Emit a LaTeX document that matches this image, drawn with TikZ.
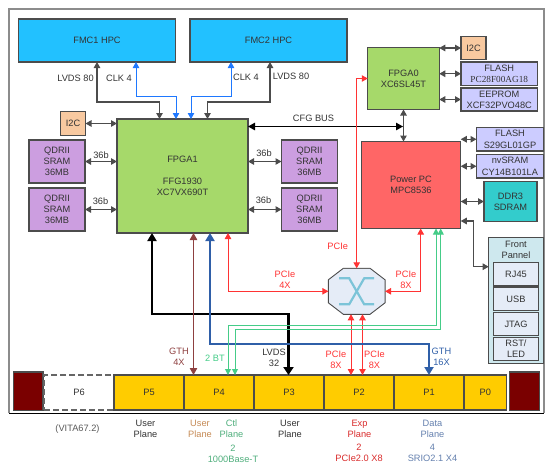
\documentclass[tikz,border=0pt]{standalone}
\usepackage{fontspec}
\setmainfont{Liberation Sans}
\newfontfamily\flashserif{Liberation Serif}
\usepackage{xcolor}
\usepackage{tikz}
\usetikzlibrary{arrows.meta}
\definecolor{inkgray}{HTML}{333333}
\definecolor{fmcblue}{HTML}{22C1FF}
\definecolor{fpgagreen}{HTML}{A6D96A}
\definecolor{qdrpurple}{HTML}{CC9EE0}
\definecolor{i2corange}{HTML}{F8C9A0}
\definecolor{flashlilac}{HTML}{CCCCFF}
\definecolor{ppcred}{HTML}{FF6666}
\definecolor{ddrteal}{HTML}{33CCCC}
\definecolor{panelcyan}{HTML}{CEE8EE}
\definecolor{itemblue}{HTML}{E5ECF7}
\definecolor{slotyellow}{HTML}{FFCC00}
\definecolor{capred}{HTML}{7A0000}
\definecolor{pcired}{HTML}{FF3333}
\definecolor{clkblue}{HTML}{1E78FF}
\definecolor{gthblue}{HTML}{2F5FA8}
\definecolor{gthbrown}{HTML}{8E4040}
\definecolor{btgreen}{HTML}{45CC88}
\definecolor{planeorange}{HTML}{C58A55}
\definecolor{planegreen}{HTML}{4FAE7C}
\definecolor{planeblue}{HTML}{6480AE}
\definecolor{xcyan}{HTML}{7CC4D8}

\begin{document}
\begin{tikzpicture}[
    x=1pt, y=-1pt,
    every node/.style={font=\fontsize{9.25}{11.2}\selectfont, text=inkgray, inner sep=0pt, outer sep=0pt, align=center},
    block/.style={rectangle, draw=black!70, line width=1.1pt},
    fmc/.style={block, fill=fmcblue, minimum width=157pt, minimum height=43pt},
    qdr/.style={block, fill=qdrpurple, minimum width=56pt, minimum height=43pt},
    i2c/.style={block, fill=i2corange, minimum width=25pt, minimum height=23.5pt},
    flash/.style={block, fill=flashlilac},
    item/.style={block, fill=itemblue, minimum width=45pt, minimum height=23.5pt},
    slot/.style={block, fill=slotyellow, minimum width=70pt, minimum height=35pt},
    capblock/.style={block, fill=capred, minimum width=29.5pt, minimum height=38.5pt},
    lbl/.style={},
    link/.style={draw=black!70, line width=1.1pt, {Triangle[length=6pt, width=6.5pt]}-{Triangle[length=6pt, width=6.5pt]}},
    clk/.style={draw=clkblue, line width=1pt, {Triangle[length=6pt, width=6.5pt]}-{Triangle[length=6pt, width=6.5pt]}},
    pcie/.style={draw=pcired, line width=0.9pt, {Triangle[length=6pt, width=6.5pt]}-{Triangle[length=6pt, width=6.5pt]}},
    bt/.style={draw=btgreen, line width=1pt, {Triangle[length=6pt, width=6pt]}-{Triangle[length=6pt, width=6pt]}},
    xarm/.style={draw=xcyan, line width=2.2pt}
]
\useasboundingbox (0,0) rectangle (555,469);
% frame
\draw[draw=black!45, line width=1.2pt] (9,413) -- (9,9) -- (544,9) -- (544,413);
\draw[draw=black, line width=1pt] (9,413) -- (544,413);

% fmc and fpga
\node[fmc] (fmc1) at (97,40.5) {FMC1 HPC};
\node[fmc] (fmc2) at (268.5,40.5) {FMC2 HPC};
\node[block, fill=fpgagreen, minimum width=131pt, minimum height=114pt] (fpga1) at (182.5,176) {FPGA1\\[11pt]FFG1930\\XC7VX690T};
\node[block, fill=fpgagreen, minimum width=71.5pt, minimum height=62pt] (fpga0) at (403.5,78.5) {FPGA0\\XC6SL45T};
\node[i2c] (i2cl) at (73,123.5) {I2C};
\node[i2c] (i2cr) at (473.5,48) {I2C};

% sram
\node[qdr] (qdra) at (57,161.5) {QDRII\\SRAM\\36MB};
\node[qdr] (qdrb) at (57,209.5) {QDRII\\SRAM\\36MB};
\node[qdr] (qdrc) at (309.5,161.5) {QDRII\\SRAM\\36MB};
\node[qdr] (qdrd) at (309.5,209.5) {QDRII\\SRAM\\36MB};

% memories
\node[flash, minimum width=76.5pt, minimum height=23.5pt] (flasha) at (499.25,73.75) {FLASH\\{\flashserif PC28F00AG18}};
\node[flash, minimum width=76.5pt, minimum height=23pt] (eeprom) at (499.25,99.5) {EEPROM\\XCF32PVO48C};
\node[flash, minimum width=67pt, minimum height=23.5pt] (flashb) at (510,139.25) {FLASH\\S29GL01GP};
\node[flash, minimum width=67pt, minimum height=23.5pt] (nvsram) at (510,166.25) {nvSRAM\\CY14B101LA};
\node[block, fill=ddrteal, minimum width=53pt, minimum height=40pt] (ddr3) at (510.5,201.5) {DDR3\\SDRAM};
\node[block, fill=ppcred, minimum width=99.5pt, minimum height=87pt] (ppc) at (411,185) {Power PC\\MPC8536};

% front panel
\node[block, fill=panelcyan, minimum width=55pt, minimum height=125.5pt] (panel) at (516.2,300.5) {};
\node[lbl] (paneltxt) at (516,250) {Front\\Pannel};
\node[item] (rj45) at (516,274.2) {RJ45};
\node[item] (usb) at (516,299) {USB};
\node[item] (jtag) at (516,324) {JTAG};
\node[item] (rst) at (516,349) {RST/\\LED};

% switch
\node[minimum width=56.7pt, minimum height=46pt] (sw) at (356.7,291.3) {};
\draw[draw=black!70, line width=0.9pt, fill=itemblue] ([xshift=15pt]sw.north west) -- ([xshift=-15pt]sw.north east) -- ([yshift=-11.5pt]sw.north east) -- ([yshift=11.5pt]sw.south east) -- ([xshift=-15pt]sw.south east) -- ([xshift=15pt]sw.south west) -- ([yshift=11.5pt]sw.south west) -- ([yshift=-11.5pt]sw.north west) -- cycle;
\draw[draw=black!60, line width=1.4pt] ([xshift=15pt]sw.north west) -- ([xshift=-15pt]sw.north east);
\draw[xarm] ([shift={(-17.5,-13)}]sw.center) -- ++(10,0) -- ++(15,26) -- ++(10,0);
\draw[xarm] ([shift={(17.5,-13)}]sw.center) -- ++(-10,0) -- ++(-15,26) -- ++(-10,0);

% backplane
\node[capblock] (capl) at (28.2,391.2) {};
\node[block, draw=black!60, dash pattern=on 6pt off 3pt, line width=1.2pt, fill=white, minimum width=70pt, minimum height=35pt] (p6) at (79,392.5) {P6};
\node[slot] (p5) at (149,392.5) {P5};
\node[slot] (p4) at (219,392.5) {P4};
\node[slot] (p3) at (289,392.5) {P3};
\node[slot] (p2) at (359,392.5) {P2};
\node[slot] (p1) at (429,392.5) {P1};
\node[slot, minimum width=42.5pt] (p0) at (485.25,392.5) {P0};
\node[capblock] (capr) at (524.3,391.2) {};

% fmc links
\draw[link] ([xshift=-23pt]fpga1.north) |- (97,102) -- (97,62);
\draw[link] ([xshift=25pt]fpga1.north) |- (270,102) -- (270,62);
\draw[clk] ([xshift=-6.5pt]fpga1.north) |- (136,96.5) -- (136,62);
\draw[clk] ([xshift=8.5pt]fpga1.north) |- (231,96.5) -- (231,62);
\draw[link] (i2cl.east) -- (i2cl.east -| fpga1.west);

% sram links
\draw[link] (qdra.east) -- (qdra.east -| fpga1.west);
\draw[link] (qdrb.east) -- (qdrb.east -| fpga1.west);
\draw[link] (qdrc.west -| fpga1.east) -- (qdrc.west);
\draw[link] (qdrd.west -| fpga1.east) -- (qdrd.west);

% control links
\draw[link, draw=black, {Triangle[length=7pt, width=7.5pt]}-{Triangle[length=7pt, width=7.5pt]}] ([yshift=49.5pt]fpga1.east) -- (403,126.5);
\draw[link] (fpga0.south) -- (fpga0.south |- ppc.north);
\draw[link] (i2cr.west -| fpga0.east) -- (i2cr.west);
\draw[link] (flasha.west -| fpga0.east) -- (flasha.west);
\draw[link] (eeprom.west -| fpga0.east) -- (eeprom.west);
\draw[link] (flashb.west -| ppc.east) -- (flashb.west);
\draw[link] (nvsram.west -| ppc.east) -- (nvsram.west);
\draw[link] (ddr3.west -| ppc.east) -- (ddr3.west);
\draw[link] ([yshift=-36pt]ppc.east) -| (473.5,266.7) -- (panel.west |- 473.5,266.7);

% pcie links
\draw[pcie] (sw.north) |- (fpga0.west);
\draw[pcie] ([xshift=45.5pt]fpga1.south) |- (sw.west);
\draw[pcie] ([xshift=9.7pt]ppc.south) |- (sw.east);
\draw[pcie] ([xshift=-5.7pt]sw.south) -- ([xshift=-8pt]p2.north);
\draw[pcie] ([xshift=5.8pt]sw.south) -- ([xshift=3.5pt]p2.north);

% backplane links
\draw[draw=black, line width=2.4pt, {Triangle[length=8pt, width=9pt]}-{Triangle[length=8pt, width=10pt]}] ([xshift=-30.5pt]fpga1.south) |- (288.5,314) -- (288.5,375);
\draw[draw=gthbrown, line width=1pt, {Triangle[length=7pt, width=7.5pt]}-{Triangle[length=7pt, width=7.5pt]}] ([xshift=11pt]fpga1.south) -- ([xshift=-25.5pt]p4.north);
\draw[draw=gthblue, line width=2.2pt, {Triangle[length=8pt, width=9pt]}-{Triangle[length=8pt, width=9pt]}] ([xshift=27.5pt]fpga1.south) |- (429,344) -- (p1.north);
\draw[bt] ([xshift=25pt]ppc.south) |- (228,325.7) -- (228,375);
\draw[bt] ([xshift=29.7pt]ppc.south) |- (235,329.7) -- (235,375);

% link labels
\node[lbl] (lvdsa) at (75.5,78.5) {LVDS 80};
\node[lbl] (clka) at (119,78) {CLK 4};
\node[lbl] (clkb) at (246,77) {CLK 4};
\node[lbl] (lvdsb) at (291,76.5) {LVDS 80};
\node[lbl] (cfgbus) at (313.5,118.5) {CFG BUS};
\node[lbl] (widtha) at (101,155) {36b};
\node[lbl] (widthb) at (100.5,201.5) {36b};
\node[lbl] (widthc) at (264,153) {36b};
\node[lbl] (widthd) at (263.5,200.5) {36b};
\node[lbl, text=pcired] (pcia) at (337.7,246.7) {PCIe};
\node[lbl, text=pcired] (pcib) at (285,279.5) {PCIe\\4X};
\node[lbl, text=pcired] (pcic) at (406,279.5) {PCIe\\8X};
\node[lbl, text=pcired] (pcid) at (336,359.5) {PCIe\\8X};
\node[lbl, text=pcired] (pcie) at (374.5,360) {PCIe\\8X};
\node[lbl, text=gthblue] (gthb) at (441.5,357) {GTH\\16X};
\node[lbl, text=gthbrown] (gtha) at (179,357) {GTH\\4X};
\node[lbl, text=btgreen] (btlbl) at (215,358) {2 BT};
\node[lbl] (lvdsc) at (274,357.5) {LVDS\\32};

% plane labels
\node[lbl, text=black!65] (vita) at (77.5,429) {(VITA67.2)};
\node[lbl] (planea) at (145.5,429) {User\\Plane};
\node[lbl, text=planeorange] (planeb) at (200,429) {User\\Plane};
\node[lbl, text=planegreen] (planec) at (231.5,429) {Ctl\\Plane};
\node[lbl, text=planegreen] (bttxt) at (233,453.5) {2\\1000Base-T};
\node[lbl] (planed) at (290,429) {User\\Plane};
\node[lbl, text=pcired!85!black] (planee) at (359.5,429) {Exp\\Plane};
\node[lbl, text=pcired!85!black] (exptxt) at (359,453) {2\\PCIe2.0 X8};
\node[lbl, text=planeblue] (planef) at (432.5,429) {Data\\Plane};
\node[lbl, text=planeblue] (srio) at (432.5,453) {4\\SRIO2.1 X4};
\end{tikzpicture}
\end{document}
